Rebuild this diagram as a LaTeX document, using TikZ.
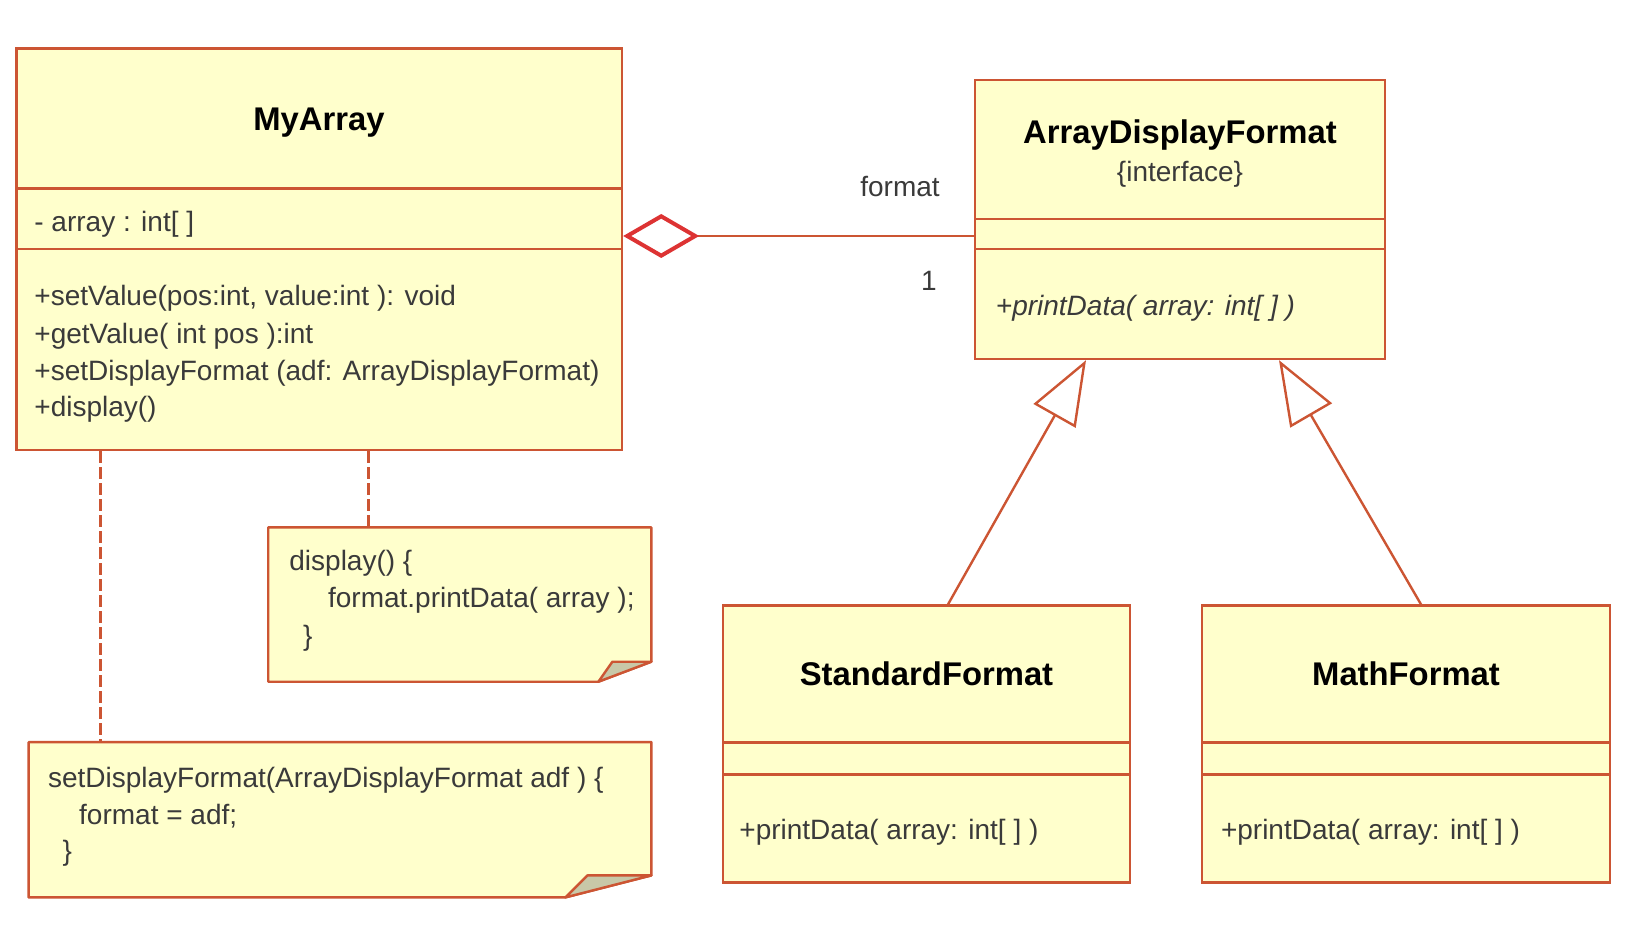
\documentclass[tikz,border=0pt]{standalone}
\usepackage{fontspec}
\setmainfont{Liberation Sans}
\usepackage{tikz}
\usetikzlibrary{arrows.meta,positioning,fit}
\definecolor{umlfill}{HTML}{FFFFCC}
\definecolor{umlline}{HTML}{CC5533}
\definecolor{aggred}{HTML}{DD3333}
\definecolor{foldgray}{HTML}{C8C8A8}
\definecolor{umltext}{HTML}{3A3A3A}

\begin{document}
\begin{tikzpicture}[
x=0.5pt, y=-0.5pt,
font=\fontsize{14}{17}\selectfont,
classbox/.style={draw=umlline, fill=umlfill, line width=1.2pt, inner sep=0pt},
classname/.style={font=\fontsize{16.4}{19}\selectfont\bfseries, text=black, inner sep=0pt},
member/.style={anchor=west, inner sep=0pt, text=umltext},
notebox/.style={inner sep=0pt},
notelink/.style={draw=umlline, line width=1.5pt, dash pattern=on 6pt off 2pt},
aggr/.style={draw=umlline, line width=1.2pt, -{Diamond[fill=white, color=aggred, line width=2pt, length=38pt, width=22pt]}},
generalize/.style={draw=umlline, line width=1.2pt, -{Triangle[fill=white, length=32pt, width=24pt, line width=1.2pt]}}
]
    % Page
    \useasboundingbox [fill=white] (0,0) rectangle (1626,940);

    % MyArray class
    \node[classbox, fit={(16.6,48.7) (622,188.7)}] (myarrayHead) {};
    \node[classbox, fit={(16.6,188.7) (622,249)}] (myarrayAttr) {};
    \node[classbox, fit={(16.6,249) (622,450)}] (myarrayOps) {};
    \node[classname] (myarrayName) at (319,123) {MyArray};
    \node[member] (arrayField) at (34,224) {- array : int[ ]};
    \node[member] (setValueOp) at (34,298.5) {+setValue(pos:int, value:int ): void};
    \node[member] (getValueOp) at (34,336) {+getValue( int pos ):int};
    \node[member] (setFormatOp) at (34,373) {+setDisplayFormat (adf: ArrayDisplayFormat)};
    \node[member] (displayOp) at (34,409.5) {+display()};

    % ArrayDisplayFormat interface
    \node[classbox, fit={(975,80) (1385,219)}] (adfHead) {};
    \node[classbox, fit={(975,219) (1385,249)}] (adfAttr) {};
    \node[classbox, fit={(975,249) (1385,359)}] (adfOps) {};
    \node[classname] (adfName) at (1180,134.7) {ArrayDisplayFormat};
    \node[inner sep=0pt, text=umltext] (adfStereo) at (1180,174) {\{interface\}};
    \node[member, font=\fontsize{14}{17}\selectfont\itshape] (adfPrintOp) at (995.5,308) {+printData( array: int[ ] )};

    % StandardFormat class
    \node[classbox, fit={(723,605.6) (1130,742.5)}] (stdHead) {};
    \node[classbox, fit={(723,742.5) (1130,774.6)}] (stdAttr) {};
    \node[classbox, fit={(723,774.6) (1130,882.5)}] (stdOps) {};
    \node[classname] (stdName) at (stdHead.center) {StandardFormat};
    \node[member] (stdPrintOp) at (739,832.6) {+printData( array: int[ ] )};

    % MathFormat class
    \node[classbox, fit={(1202,605.6) (1610,742.5)}] (mathHead) {};
    \node[classbox, fit={(1202,742.5) (1610,774.6)}] (mathAttr) {};
    \node[classbox, fit={(1202,774.6) (1610,882.5)}] (mathOps) {};
    \node[classname] (mathName) at (mathHead.center) {MathFormat};
    \node[member] (mathPrintOp) at (1220.6,832.6) {+printData( array: int[ ] )};

    % Notes
    \node[notebox, fit={(268.6,527.8) (651,681.3)}] (displayNote) {};
    \node[notebox, fit={(29,742.5) (651,897)}] (formatNote) {};
    \draw[umlline, fill=umlfill, line width=1.2pt, line join=round]
        (displayNote.north west) -- (displayNote.north east)
        -- ([yshift=10pt]displayNote.south east)
        -- ([xshift=-26.5pt]displayNote.south east)
        -- (displayNote.south west) -- cycle;
    \draw[umlline, fill=foldgray, line width=1.2pt, line join=round]
        ([xshift=-26.5pt]displayNote.south east)
        -- ([xshift=-19.5pt, yshift=10pt]displayNote.south east)
        -- ([yshift=10pt]displayNote.south east) -- cycle;
    \draw[umlline, fill=umlfill, line width=1.2pt, line join=round]
        (formatNote.north west) -- (formatNote.north east)
        -- ([yshift=11pt]formatNote.south east)
        -- ([xshift=-43pt]formatNote.south east)
        -- (formatNote.south west) -- cycle;
    \draw[umlline, fill=foldgray, line width=1.2pt, line join=round]
        ([xshift=-43pt]formatNote.south east)
        -- ([xshift=-32pt, yshift=11pt]formatNote.south east)
        -- ([yshift=11pt]formatNote.south east) -- cycle;
    \node[member] (displayLineA) at (289,563.5) {display() \{};
    \node[member] (displayLineB) at (327.7,600.5) {format.printData( array );};
    \node[member] (displayLineC) at (302.8,638.5) {\}};
    \node[member] (formatLineA) at (47.7,780) {setDisplayFormat(ArrayDisplayFormat adf ) \{};
    \node[member] (formatLineB) at (78.8,816) {format = adf;};
    \node[member] (formatLineC) at (62.2,853.5) {\}};

    % Connectors
    \coordinate (linkA) at (100.6,0);
    \coordinate (linkB) at (368,0);
    \coordinate (aggY) at (0,236);
    \coordinate (genA) at (948,0);
    \coordinate (genB) at (1421,0);
    \coordinate (tipA) at (1086,0);
    \coordinate (tipB) at (1279,0);
    \draw[notelink] (myarrayOps.south -| linkA) -- (formatNote.north -| linkA);
    \draw[notelink] (myarrayOps.south -| linkB) -- (displayNote.north -| linkB);
    \draw[aggr] (adfAttr.west |- aggY) -- (myarrayAttr.east |- aggY);
    \draw[generalize] (stdHead.north -| genA) -- (adfOps.south -| tipA);
    \draw[generalize] (mathHead.north -| genB) -- (adfOps.south -| tipB);
    \node[inner sep=0pt, text=umltext] (roleName) at (900,187) {format};
    \node[inner sep=0pt, text=umltext] (multiplicity) at (929,281) {1};
\end{tikzpicture}
\end{document}
